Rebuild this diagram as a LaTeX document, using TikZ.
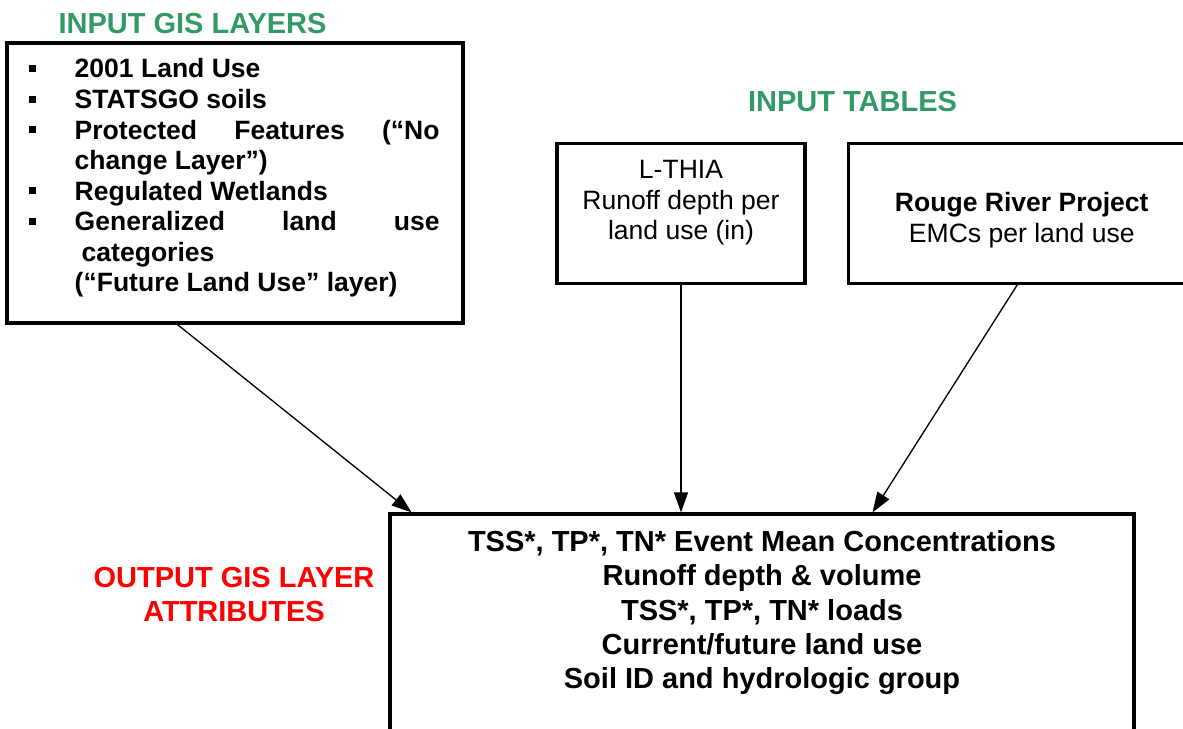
\documentclass[tikz,border=0pt]{standalone}
\usepackage{fontspec}
\setmainfont{Liberation Sans}
\usetikzlibrary{positioning,calc,arrows.meta}
\definecolor{layergreen}{RGB}{51,153,102}
\definecolor{outred}{RGB}{255,0,0}
\newcommand{\sqbullet}{\makebox[0.92cm][l]{\raisebox{0.12cm}{\rule{0.14cm}{0.14cm}}}}

\begin{document}
\begin{tikzpicture}[x=0.02cm,y=-0.02cm,->,>={Triangle[length=0.4cm,width=0.28cm]},
  box/.style={draw,line width=1.9pt,inner sep=0pt},
  boxtxt/.style={align=center,inner sep=0pt,font=\fontsize{15.1pt}{17.4pt}\selectfont},
  listtxt/.style={align=left,inner sep=0pt,font=\bfseries\fontsize{15.1pt}{17.4pt}\selectfont},
  restxt/.style={align=center,inner sep=0pt,font=\bfseries\fontsize{16.5pt}{19.5pt}\selectfont},
  title/.style={align=center,inner sep=0pt,font=\bfseries\fontsize{16.5pt}{19.4pt}\selectfont},
  flow/.style={line width=0.75pt}]

\useasboundingbox (0,0) rectangle (1183,728);

% inputs
\node[title,text=layergreen](gistitle) at (192.5,33) [anchor=base]{INPUT GIS LAYERS};
\node[box,minimum width=9.12cm,minimum height=5.6cm](gis) at (235,183){};
\node[listtxt](gislist)[below right=0.34cm and 0.46cm of gis.north west]{%
\sqbullet 2001 Land Use\\
\sqbullet STATSGO soils\\
\sqbullet\makebox[7.3cm][l]{Protected\hfill Features\hfill (“No}\\
\hspace*{0.92cm}change Layer”)\\
\sqbullet Regulated Wetlands\\
\sqbullet\makebox[7.3cm][l]{Generalized\hfill land\hfill use}\\
\hspace*{1.06cm}categories\\
\hspace*{0.92cm}(“Future Land Use” layer)};

\node[title,text=layergreen](tabtitle) at (852.5,111) [anchor=base]{INPUT TABLES};
\node[box,minimum width=4.96cm,minimum height=2.79cm](lthia) at (681,213.5){};
\node[box,minimum width=6.94cm,minimum height=2.79cm](rouge)[right=0.8cm of lthia]{};
\node[boxtxt](lthiatxt)[below=0.36cm of lthia.north]{L-THIA\\Runoff depth per\\land use (in)};
\node[boxtxt](rougetxt)[below=1.0cm of rouge.north]{\textbf{Rouge River Project}\\EMCs per land use};

% output
\node[box,minimum width=14.88cm,minimum height=5.12cm](res) at (762,642){};
\node[restxt](restext)[below=0.36cm of res.north]{TSS*, TP*, TN* Event Mean Concentrations\\
Runoff depth \& volume\\
TSS*, TP*, TN* loads\\
Current/future land use\\
Soil ID and hydrologic group};
\node[title,text=outred](outtitle) at (234,567) [anchor=north]{OUTPUT GIS LAYER\\ATTRIBUTES};

\path[flow]($(gis.south west)!0.375!(gis.south east)$) edge ($(res.north west)!0.031!(res.north east)$)
  (lthia.south) edge (lthia.south |- res.north)
  ($(rouge.south west)!0.487!(rouge.south east)$) edge ($(res.north west)!0.648!(res.north east)$);

\end{tikzpicture}
\end{document}
